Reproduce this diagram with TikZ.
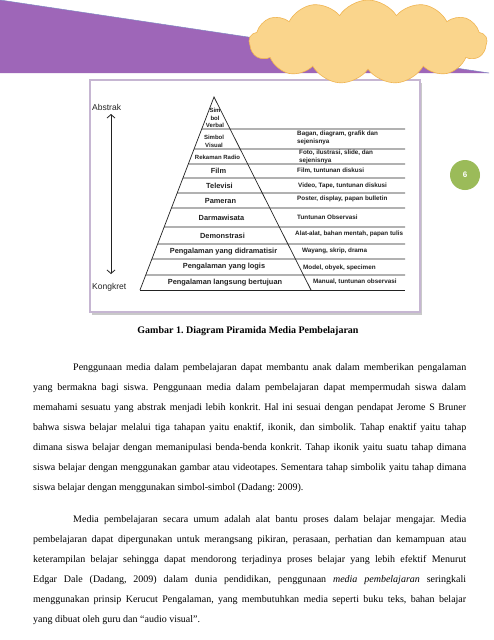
\documentclass[tikz,border=0pt]{standalone}
\usepackage{fontspec}
\setmainfont{Liberation Serif}
\newfontfamily\arialf{Liberation Sans}
\usetikzlibrary{calc,shapes.symbols,shadows,arrows.meta}
\definecolor{purpleband}{HTML}{9E66B8}
\definecolor{purpleedge}{HTML}{7F86C2}
\definecolor{cloudfill}{HTML}{FAD58C}
\definecolor{cloudline}{HTML}{F0B552}
\definecolor{boxborder}{HTML}{C6B6D2}
\definecolor{pagegreen}{HTML}{9BBB59}
\definecolor{inkdark}{HTML}{222222}
\frenchspacing
\newcommand{\bodyfnt}{\fontsize{10}{12}\selectfont\frenchspacing}
\newcommand{\jline}[1]{\hbox to 433pt{\spaceskip=0.25em plus 1em minus 0.12em\relax #1}}
\newcommand{\jfirst}[1]{\hbox to 433pt{\spaceskip=0.25em plus 1em minus 0.12em\relax\hskip 40pt #1}}
\tikzset{
  bodyline/.style={anchor=base west, inner sep=0pt, font=\bodyfnt},
  pyrlabel/.style={inner sep=0pt, font=\arialf\bfseries\fontsize{7.4}{9}\selectfont, text=inkdark},
  toplabel/.style={inner sep=0pt, align=center, font=\arialf\bfseries\fontsize{6}{7.5}\selectfont, text=inkdark},
  sidelabel/.style={anchor=west, inner sep=0pt, align=left, font=\arialf\bfseries\fontsize{6.3}{8}\selectfont, text=inkdark},
  rowline/.style={draw=inkdark, line width=0.6pt},
  edgeline/.style={draw=inkdark, line width=0.7pt},
  sidetitle/.style={anchor=west, inner sep=0pt, font=\arialf\fontsize{8.5}{10}\selectfont, text=inkdark}
}
\begin{document}
\begin{tikzpicture}[x=1pt, y=-1pt]
\useasboundingbox (0,0) rectangle (494,640);
\fill[white] (0,0) rectangle (494,640);
% purple band
\fill[purpleband] (0,0) -- (489,73) -- (0,73) -- cycle;
\draw[purpleedge, line width=0.5pt] (0,0) -- (489,73);
% figure box
\draw[draw=boxborder, line width=1.4pt, fill=white,
      drop shadow={shadow xshift=1.5pt, shadow yshift=-2.5pt, opacity=0.35, fill=black!60}] (90,80) rectangle (420,312);
% cloud
\node[cloud, cloud puffs=13, cloud puff arc=115, aspect=2.9, minimum width=238pt, minimum height=84pt,
      fill=cloudfill, draw=cloudline, line width=0.6pt] (cloud) at (368,42) {};
% page number
\node[circle, fill=pagegreen, minimum size=30pt, inner sep=0pt, text=white,
      font=\arialf\bfseries\fontsize{8}{9}\selectfont] (pagenum) at (465,175) {6};
% pyramid
\coordinate (A) at (214,97);
\coordinate (BL) at (140,290);
\coordinate (BR) at (311,290);
\coordinate (BE) at (405,290);
\draw[edgeline] (BL) -- (A) -- (BR);
\draw[rowline] (BL) -- (BE);
\foreach \yy in {129,149,164,178,193,208,227,244,259,275}{
  \draw[rowline] ($(A)!{(\yy-97)/193}!(BL)$) -- (405,\yy);
}
% pyramid labels
\node[toplabel] (verbal) at (215,118) {Sim\\bol\\Verbal};
\node[toplabel] (visual) at (214,141.5) {Simbol\\Visual};
\node[toplabel] (radio) at (217.5,157) {Rekaman Radio};
\node[pyrlabel] (film) at (218.5,171) {Film};
\node[pyrlabel] (tv) at (219.5,186) {Televisi};
\node[pyrlabel] (pameran) at (220.5,200.5) {Pameran};
\node[pyrlabel] (darma) at (221.5,218) {Darmawisata};
\node[pyrlabel] (demo) at (222.5,235.5) {Demonstrasi};
\node[pyrlabel] (drama) at (223.5,251.5) {Pengalaman yang didramatisir};
\node[pyrlabel] (logis) at (224,267) {Pengalaman yang logis};
\node[pyrlabel] (langsung) at (225,282.5) {Pengalaman langsung bertujuan};
% side labels
\node[sidelabel] (s1) at (297,138) {Bagan, diagram, grafik dan\\sejenisnya};
\node[sidelabel] (s2) at (299,157) {Foto, ilustrasi, slide, dan\\sejenisnya};
\node[sidelabel] (s3) at (297,171) {Film, tuntunan diskusi};
\node[sidelabel] (s4) at (298,186) {Video, Tape, tuntunan diskusi};
\node[sidelabel] (s5) at (297,199) {Poster, display, papan bulletin};
\node[sidelabel] (s6) at (297,217) {Tuntunan Observasi};
\node[sidelabel] (s7) at (295,234) {Alat-alat, bahan mentah, papan tulis};
\node[sidelabel] (s8) at (302,251) {Wayang, skrip, drama};
\node[sidelabel] (s9) at (303,268) {Model, obyek, specimen};
\node[sidelabel] (s10) at (313,282) {Manual, tuntunan observasi};
% abstrak / kongkret
\node[sidetitle] (abstrak) at (92,107) {Abstrak};
\node[sidetitle] (kongkret) at (92,287) {Kongkret};
\coordinate (arrtop) at (111,114);
\coordinate (arrbot) at (111,274);
\draw[{Straight Barb[length=3.5pt,width=8pt]}-{Straight Barb[length=3.5pt,width=8pt]}, line width=0.8pt, inkdark] (arrtop) -- (arrbot);
% caption
\node[anchor=base, inner sep=0pt, font=\bfseries\bodyfnt] (caption) at (248,333) {Gambar 1. Diagram Piramida Media Pembelajaran};
% paragraph 1
\node[bodyline] (p1a) at (33,370.5) {\jfirst{Penggunaan media dalam pembelajaran dapat membantu anak dalam memberikan pengalaman}};
\node[bodyline] (p1b) at (33,390.5) {\jline{yang bermakna bagi siswa. Penggunaan media dalam pembelajaran dapat mempermudah siswa dalam}};
\node[bodyline] (p1c) at (33,410.5) {\jline{memahami sesuatu yang abstrak menjadi lebih konkrit. Hal ini sesuai dengan pendapat Jerome S Bruner}};
\node[bodyline] (p1d) at (33,430.5) {\jline{bahwa siswa belajar melalui tiga tahapan yaitu enaktif, ikonik, dan simbolik. Tahap enaktif yaitu tahap}};
\node[bodyline] (p1e) at (33,450.5) {\jline{dimana siswa belajar dengan memanipulasi benda-benda konkrit. Tahap ikonik yaitu suatu tahap dimana}};
\node[bodyline] (p1f) at (33,470.5) {\jline{siswa belajar dengan menggunakan gambar atau videotapes. Sementara tahap simbolik yaitu tahap dimana}};
\node[bodyline] (p1g) at (33,490.5) {siswa belajar dengan menggunakan simbol-simbol (Dadang: 2009).};
% paragraph 2
\node[bodyline] (p2a) at (33,522.5) {\jfirst{Media pembelajaran secara umum adalah alat bantu proses dalam belajar mengajar. Media}};
\node[bodyline] (p2b) at (33,542.5) {\jline{pembelajaran dapat dipergunakan untuk merangsang pikiran, perasaan, perhatian dan kemampuan atau}};
\node[bodyline] (p2c) at (33,562.5) {\jline{keterampilan belajar sehingga dapat mendorong terjadinya proses belajar yang lebih efektif Menurut}};
\node[bodyline] (p2d) at (33,582.5) {\jline{Edgar Dale (Dadang, 2009) dalam dunia pendidikan, penggunaan \textit{media pembelajaran} seringkali}};
\node[bodyline] (p2e) at (33,602.5) {\jline{menggunakan prinsip Kerucut Pengalaman, yang membutuhkan media seperti buku teks, bahan belajar}};
\node[bodyline] (p2f) at (33,622.5) {yang dibuat oleh guru dan “audio visual”.};
\end{tikzpicture}
\end{document}
